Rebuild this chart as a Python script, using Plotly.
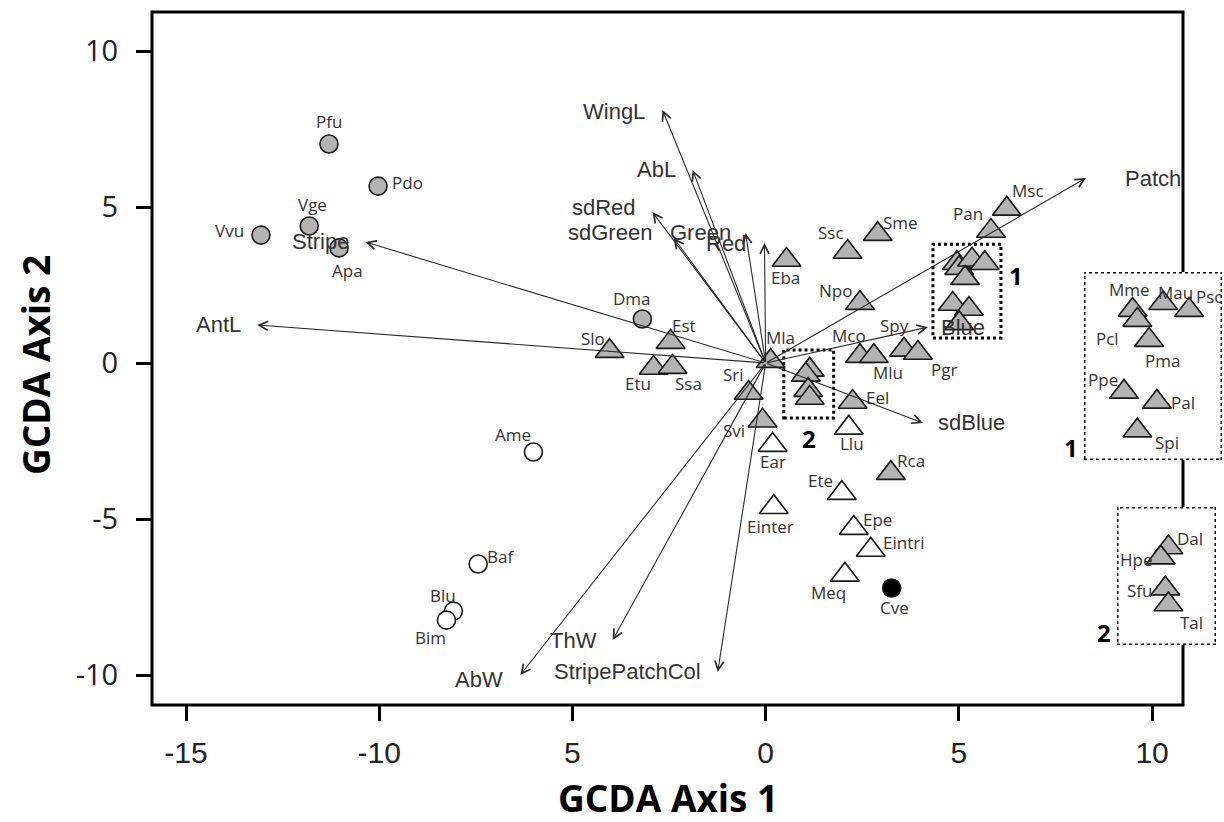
import plotly.graph_objects as go

# ---------------- species scores (GCDA axis 1, GCDA axis 2) ----------------
grey_circle_names = ["Pfu", "Pdo", "Vge", "Vvu", "Apa", "Dma"]
grey_circle_x = [-11.30, -10.03, -11.81, -13.06, -11.04, -3.19]
grey_circle_y = [7.02, 5.67, 4.39, 4.10, 3.69, 1.41]

white_circle_names = ["Ame", "Baf", "Blu", "Bim"]
white_circle_x = [-6.01, -7.44, -8.08, -8.26]
white_circle_y = [-2.85, -6.44, -7.95, -8.24]

black_circle_names = ["Cve"]
black_circle_x = [3.26]
black_circle_y = [-7.21]

grey_tri_names = ["Slo", "Est", "Etu", "Ssa", "Mla", "Sri", "Svi", "Eel", "Rca",
                  "Eba", "Ssc", "Sme", "Npo", "Pan", "Msc", "Mco", "Mlu", "Spy", "Pgr"]
grey_tri_x = [-4.04, -2.46, -2.90, -2.41, 0.13, -0.44, -0.08, 2.25, 3.24,
              0.54, 2.12, 2.90, 2.44, 5.83, 6.24, 2.44, 2.80, 3.58, 3.94]
grey_tri_y = [0.38, 0.67, -0.16, -0.13, 0.06, -0.96, -1.85, -1.25, -3.53,
              3.30, 3.56, 4.13, 1.92, 4.23, 4.94, 0.22, 0.22, 0.42, 0.32]

white_tri_names = ["Ear", "Einter", "Llu", "Ete", "Epe", "Eintri", "Meq"]
white_tri_x = [0.18, 0.21, 2.15, 1.97, 2.28, 2.72, 2.05]
white_tri_y = [-2.63, -4.62, -2.08, -4.17, -5.29, -5.99, -6.79]

# dense group 1 (shown enlarged in inset 1)
group1_names = ["Mme", "Pcl", "Mau", "Psc", "Pma", "Ppe", "Pal", "Spi"]
group1_x = [4.95, 5.01, 5.34, 5.67, 5.16, 4.84, 5.26, 5.01]
group1_y = [3.20, 3.04, 3.31, 3.20, 2.72, 1.89, 1.73, 1.27]

# dense group 2 (shown enlarged in inset 2)
group2_names = ["Dal", "Hpe", "Sfu", "Tal"]
group2_x = [1.14, 1.04, 1.10, 1.14]
group2_y = [-0.22, -0.38, -0.87, -1.12]

# ---------------- trait vectors (structure coefficients) ----------------
vector_names = ["WingL", "AbL", "sdRed", "sdGreen", "Green", "Red", "Stripe", "AntL",
                "Patch", "Blue", "sdBlue", "AbW", "ThW", "StripePatchCol"]
vector_x = [-2.67, -1.89, -2.93, -2.38, -0.52, -0.03, -10.36, -13.16,
            8.29, 4.20, 4.07, -6.35, -3.96, -1.24]
vector_y = [8.11, 6.19, 4.84, 4.01, 4.17, 3.85, 3.88, 1.22,
            5.93, 1.15, -1.92, -10.0, -8.88, -9.90]

# ---------------- axes ----------------
x_range = [-15.88, 10.80]
y_range = [-10.96, 11.25]
x_tickvals = [-15, -10, -5, 0, 5, 10]
x_ticktext = ["-15", "-10", "5", "0", "5", "10"]
y_tickvals = [-10, -5, 0, 5, 10]
y_ticktext = ["-10", "-5", "0", "5", "10"]

# zoom windows (data units) for the two insets
box1 = dict(x0=4.33, x1=6.09, y0=0.80, y1=3.81)
box2 = dict(x0=0.47, x1=1.76, y0=-1.76, y1=0.42)

# ---------------- styling ----------------
W, H = 1224, 822
ML, MR, MT, MB = 152, 0, 12, 117
PW, PH = W - ML - MR, H - MT - MB


def px_x(p):
    return (p - ML) / PW


def px_y(p):
    return (H - MB - p) / PH


main_xdom = [0, px_x(1183)]
in1_xdom, in1_ydom = [px_x(1084), px_x(1222)], [px_y(460), px_y(272)]
in2_xdom, in2_ydom = [px_x(1117), px_x(1216)], [px_y(645), px_y(507)]

GREY = "#b3b3b3"
EDGE = "#1a1a1a"
LABEL_FONT = dict(family="Open Sans, sans-serif", size=17, color="#333333")
VEC_FONT = dict(family="Liberation Sans, Arial, sans-serif", size=22, color="#333333")
TRI_SIZE = 25
CIRC_SIZE = 18

# label offset from its marker, in screen pixels (right, down)
label_offset = {
    "Pfu": (0, -22), "Pdo": (29, -4), "Vge": (3, -22), "Vvu": (-31, -5),
    "Apa": (8, 23), "Dma": (-10, -21),
    "Ame": (-20, -17), "Baf": (22, -7), "Blu": (-10, -16), "Bim": (-16, 17),
    "Cve": (3, 20),
    "Slo": (-17, -13), "Est": (13, -17), "Etu": (-16, 15), "Ssa": (16, 16),
    "Mla": (10, -24), "Sri": (-15, -18), "Svi": (-29, 10), "Eel": (25, -5),
    "Rca": (20, -13), "Eba": (-1, 17), "Ssc": (-17, -19), "Sme": (23, -12),
    "Npo": (-24, -13), "Pan": (-23, -18), "Msc": (21, -18), "Mco": (-11, -21),
    "Mlu": (14, 16), "Spy": (-10, -24), "Pgr": (26, 16),
    "Ear": (0, 16), "Einter": (-3, 19), "Llu": (3, 16), "Ete": (-21, -13),
    "Epe": (24, -9), "Eintri": (33, -7), "Meq": (-16, 18),
    "Mme": (-3, -21), "Pcl": (-30, 18), "Mau": (12, -11), "Psc": (20, -14),
    "Pma": (13, 20), "Ppe": (-21, -12), "Pal": (26, 1), "Spi": (30, 12),
    "Dal": (22, -9), "Hpe": (-25, 2), "Sfu": (-26, 2), "Tal": (23, 18),
}

fig = go.Figure()


def add_points(names, xs, ys, symbol, fill, size, xa="x", ya="y", labels=True):
    fig.add_trace(go.Scatter(
        x=xs, y=ys, xaxis=xa, yaxis=ya, mode="markers",
        marker=dict(symbol=symbol, size=size, color=fill,
                    line=dict(color=EDGE, width=1.6)),
        showlegend=False, cliponaxis=False, hoverinfo="text", hovertext=names,
    ))
    if labels:
        for n, px, py in zip(names, xs, ys):
            dx, dy = label_offset[n]
            fig.add_annotation(x=px, y=py, xref=xa, yref=ya, text=n, showarrow=False,
                               xanchor="center", yanchor="middle", xshift=dx, yshift=-dy,
                               font=LABEL_FONT)


add_points(grey_circle_names, grey_circle_x, grey_circle_y, "circle", GREY, CIRC_SIZE)
add_points(white_circle_names, white_circle_x, white_circle_y, "circle", "white", CIRC_SIZE)
add_points(black_circle_names, black_circle_x, black_circle_y, "circle", "black", CIRC_SIZE)
add_points(grey_tri_names, grey_tri_x, grey_tri_y, "triangle-up", GREY, TRI_SIZE)
add_points(white_tri_names, white_tri_x, white_tri_y, "triangle-up", "white", TRI_SIZE)
add_points(group1_names, group1_x, group1_y, "triangle-up", GREY, TRI_SIZE, labels=False)
add_points(group2_names, group2_x, group2_y, "triangle-up", GREY, TRI_SIZE, labels=False)

# enlarged views of the two dense groups
add_points(group1_names, group1_x, group1_y, "triangle-up", GREY, TRI_SIZE, "x2", "y2")
add_points(group2_names, group2_x, group2_y, "triangle-up", GREY, TRI_SIZE, "x3", "y3")

# trait vectors drawn from the origin, with their names beside the heads
vec_label_place = {
    "WingL": ("right", -15, -2), "AbL": ("right", -15, 0), "sdRed": ("right", -14, 5),
    "sdGreen": ("right", -20, 5), "Green": ("right", -13, 0), "Red": ("right", -16, -1),
    "Stripe": ("right", -14, 0), "AntL": ("right", -14, 0), "Patch": ("left", 37, 0),
    "Blue": ("left", 11, 0), "sdBlue": ("left", 13, 0), "AbW": ("right", -15, -4),
    "ThW": ("right", -14, 0), "StripePatchCol": ("right", -15, 0),
}
for name, vx, vy in zip(vector_names, vector_x, vector_y):
    fig.add_annotation(x=vx, y=vy, ax=0, ay=0, xref="x", yref="y", axref="x", ayref="y",
                       text="", showarrow=True, arrowhead=5, arrowsize=1.6,
                       arrowwidth=1.1, arrowcolor="#2b2b2b", standoff=0)
    anchor, dx, dy = vec_label_place[name]
    fig.add_annotation(x=vx, y=vy, xref="x", yref="y", text=name, showarrow=False,
                       xanchor=anchor, yanchor="middle", xshift=dx, yshift=dy,
                       font=VEC_FONT)

# dotted windows around the dense groups, repeated as the inset frames
DOT = dict(color="black", width=3, dash="3px,3px")
for xr, yr in (("x", "y"), ("x2", "y2")):
    fig.add_shape(type="rect", xref=xr, yref=yr, line=DOT, fillcolor="rgba(0,0,0,0)", **box1)
for xr, yr in (("x", "y"), ("x3", "y3")):
    fig.add_shape(type="rect", xref=xr, yref=yr, line=DOT, fillcolor="rgba(0,0,0,0)", **box2)

NUM_FONT = dict(family="Open Sans, sans-serif", size=24, color="black", weight="bold")
fig.add_annotation(x=box1["x1"], y=(box1["y0"] + box1["y1"]) / 2 + 0.5, xref="x", yref="y",
                   text="1", showarrow=False, xanchor="left", xshift=6, font=NUM_FONT)
fig.add_annotation(x=(box2["x0"] + box2["x1"]) / 2, y=box2["y0"], xref="x", yref="y",
                   text="2", showarrow=False, yanchor="top", yshift=-2, font=NUM_FONT)
fig.add_annotation(x=in1_xdom[0], y=in1_ydom[0], xref="paper", yref="paper", text="1",
                   showarrow=False, xanchor="right", yanchor="bottom", xshift=-4,
                   yshift=-6, font=NUM_FONT)
fig.add_annotation(x=in2_xdom[0], y=in2_ydom[0], xref="paper", yref="paper", text="2",
                   showarrow=False, xanchor="right", yanchor="bottom", xshift=-4,
                   yshift=-6, font=NUM_FONT)

# plot frame; the right edge is interrupted where the insets sit on it
xr_ = main_xdom[1]
frame_path = (f"M{xr_},{in2_ydom[0]} L{xr_},0 L0,0 L0,1 L{xr_},1 L{xr_},{in1_ydom[1]} "
              f"M{xr_},{in1_ydom[0]} L{xr_},{in2_ydom[1]}")
fig.add_shape(type="path", path=frame_path, xref="paper", yref="paper",
              line=dict(color="black", width=3))

# axis titles
TITLE_FONT = dict(family="Open Sans, sans-serif", size=37, color="black", weight="bold")
fig.add_annotation(x=(main_xdom[0] + main_xdom[1]) / 2, y=px_y(797), xref="paper",
                   yref="paper", text="GCDA Axis 1", showarrow=False, font=TITLE_FONT,
                   yanchor="middle")
fig.add_annotation(x=px_x(35), y=px_y(365), xref="paper", yref="paper",
                   text="GCDA Axis 2", showarrow=False, font=TITLE_FONT,
                   textangle=-90, xanchor="center", yanchor="middle")

hidden = dict(visible=False, showgrid=False, zeroline=False)
fig.update_layout(
    width=W, height=H,
    margin=dict(l=ML, r=MR, t=MT, b=MB),
    paper_bgcolor="white", plot_bgcolor="white",
    showlegend=False,
    xaxis=dict(domain=main_xdom, range=x_range, tickvals=x_tickvals, ticktext=x_ticktext,
               ticks="outside", ticklen=15, tickwidth=3, tickcolor="black",
               showline=False, showgrid=False, zeroline=False, ticklabelstandoff=6,
               tickfont=dict(family="Liberation Sans Narrow, Arial Narrow, sans-serif",
                             size=30, color="#222222")),
    yaxis=dict(domain=[0, 1], range=y_range, tickvals=y_tickvals, ticktext=y_ticktext,
               ticks="outside", ticklen=15, tickwidth=3, tickcolor="black",
               showline=False, showgrid=False, zeroline=False, ticklabelstandoff=12,
               tickfont=dict(family="Open Sans, sans-serif", size=29, color="#222222")),
    xaxis2=dict(domain=in1_xdom, range=[box1["x0"], box1["x1"]], anchor="y2", **hidden),
    yaxis2=dict(domain=in1_ydom, range=[box1["y0"], box1["y1"]], anchor="x2", **hidden),
    xaxis3=dict(domain=in2_xdom, range=[box2["x0"], box2["x1"]], anchor="y3", **hidden),
    yaxis3=dict(domain=in2_ydom, range=[box2["y0"], box2["y1"]], anchor="x3", **hidden),
)

fig.write_html("out.html")
